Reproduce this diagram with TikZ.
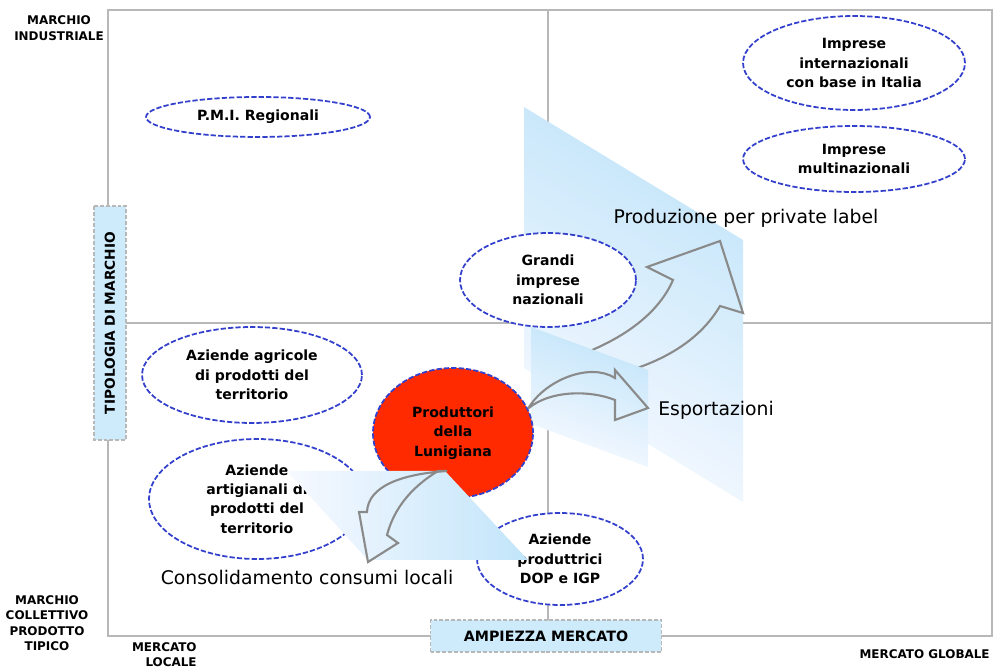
\documentclass[tikz,border=0pt]{standalone}
\usepackage{fontspec}
\setmainfont{DejaVu Sans}
\usetikzlibrary{shapes.geometric}
\definecolor{ovalblue}{HTML}{3340CC}
\definecolor{lunired}{HTML}{FF2A00}
\definecolor{panelblue}{HTML}{C2E5FA}
\definecolor{panelwhite}{HTML}{F7F9FF}
\definecolor{framegray}{HTML}{B8B8B8}
\definecolor{arrowgray}{HTML}{8A8A8A}
\definecolor{boxblue}{HTML}{CDEBFB}
\begin{document}
\begin{tikzpicture}[x=0.02cm,y=-0.02cm,
  oval/.style={ellipse,draw=ovalblue,line width=1pt,dash pattern=on 3pt off 1.2pt,fill=white,inner sep=0pt,align=center,font=\fontsize{8}{11}\selectfont\bfseries},
  axisbox/.style={draw=framegray,line width=1pt,dash pattern=on 2.2pt off 1.1pt,fill=boxblue,inner sep=0pt,minimum height=0.64cm},
  cornerlabel/.style={align=center,inner sep=0pt,font=\fontsize{6.8}{8.8}\selectfont\bfseries},
  flowlabel/.style={inner sep=0pt,font=\fontsize{10.7}{13}\selectfont},
  bigarrow/.style={draw=arrowgray,line width=1.2pt,line join=miter}]
\useasboundingbox (0,0) rectangle (994,668);
% quadrants
\draw[framegray,line width=0.6pt] (108,10) rectangle (992,636);
\draw[framegray,line width=0.6pt] (548,10) -- (548,636);
\draw[framegray,line width=0.6pt] (108,323) -- (992,323);
% private label band and arrow
\shade[top color=panelblue,bottom color=panelwhite,shading angle=-31] (524,107) -- (743,240) -- (743,502) -- (524,368) -- cycle;
\draw[bigarrow] (585,353) .. controls (630,335) and (660,310) .. (673,280) -- (647,267) -- (720,241) -- (743,313) -- (720,306) .. controls (700,340) and (665,360) .. (625,372) -- cycle;
% export band
\shade[top color=panelblue,bottom color=panelwhite,shading angle=-20] (531,327) -- (648,370) -- (648,467) -- (531,424) -- cycle;
% companies
\node[oval,minimum width=4.48cm,minimum height=0.8cm] (pmi) at (258,117) {P.M.I. Regionali};
\node[oval,minimum width=4.44cm,minimum height=1.88cm] (internazionali) at (854,63) {Imprese\\internazionali\\con base in Italia};
\node[oval,minimum width=4.44cm,minimum height=1.32cm] (multinazionali) at (854,159) {Imprese\\multinazionali};
\node[oval,minimum width=3.52cm,minimum height=1.88cm] (grandi) at (548,280) {Grandi\\imprese\\nazionali};
\node[oval,minimum width=4.4cm,minimum height=1.92cm] (agricole) at (252,375) {Aziende agricole\\di prodotti del\\territorio};
\node[oval,minimum width=4.32cm,minimum height=2.4cm] (artigianali) at (257,499) {Aziende\\artigianali di\\prodotti del\\territorio};
\node[oval,minimum width=3.32cm,minimum height=1.84cm] (dop) at (560,559) {Aziende\\produttrici\\DOP e IGP};
\node[oval,fill=lunired,minimum width=3.2cm,minimum height=2.6cm] (lunigiana) at (453,433) {Produttori\\della\\Lunigiana};
\draw[bigarrow] (lunigiana.18) .. controls (545,380) and (590,362) .. (615,378) -- (615,370) -- (648,408) -- (615,420) -- (615,400) .. controls (590,390) and (550,390) .. (lunigiana.18);
% local band and arrow
\shade[left color=panelwhite,right color=panelblue] (287,471) -- (445,471) -- (528,560) -- (368,560) -- cycle;
\draw[bigarrow] (447,471) .. controls (402,474) and (368,486) .. (367,512) -- (359,512) -- (368,562) -- (398,543) -- (387,535) .. controls (395,505) and (415,485) .. (438,471) -- cycle;
% axes
\node[axisbox,rotate=90,minimum width=4.68cm,font=\fontsize{7.8}{9}\selectfont\bfseries] (tipologia) at (110,323) {TIPOLOGIA DI MARCHIO};
\node[axisbox,minimum width=4.62cm,font=\fontsize{8.1}{10}\selectfont\bfseries] (ampiezza) at (546,636) {AMPIEZZA MERCATO};
\node[cornerlabel] (industriale) at (59,28) {MARCHIO\\INDUSTRIALE};
\node[cornerlabel] (collettivo) at (47,623) {MARCHIO\\COLLETTIVO\\PRODOTTO\\TIPICO};
\node[cornerlabel,align=right,anchor=north east] (locale) at (197,642) {MERCATO\\LOCALE};
\node[cornerlabel,anchor=east] (globale) at (990,654) {MERCATO GLOBALE};
\node[flowlabel] (privatelabel) at (746,218) {Produzione per private label};
\node[flowlabel,anchor=west] (export) at (658,410) {Esportazioni};
\node[flowlabel] (localmkt) at (307,577) {Consolidamento consumi locali};
\end{tikzpicture}
\end{document}
